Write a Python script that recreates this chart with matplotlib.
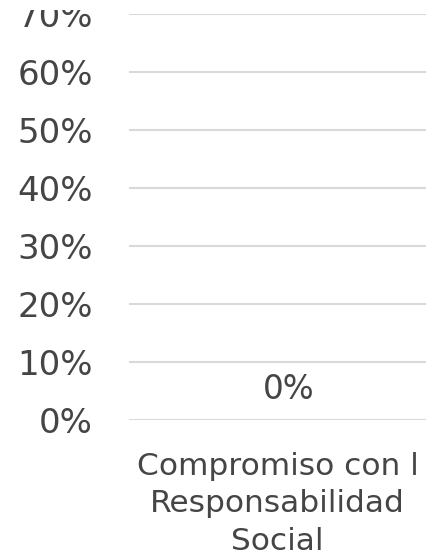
import matplotlib
matplotlib.use("Agg")
import matplotlib.pyplot as plt
from matplotlib.ticker import FuncFormatter, MultipleLocator
from matplotlib.patches import Rectangle

categories = ["Compromiso con l\nResponsabilidad\nSocial"]
values = [0.0]
value_labels = ["0%"]
y_max = 70

plt.rcParams['font.family'] = ['DejaVu Sans']

fig = plt.figure(figsize=(4.4, 5.56), dpi=100)
ax = fig.add_axes([129/440, 1 - 420/556, (426 - 129)/440, (420 - 14)/556])

x = list(range(len(categories)))
bars = ax.bar(x, values, width=0.6, color="#4472C4")
ax.set_xlim(-0.5, len(categories) - 0.5)
ax.set_ylim(0, y_max)
ax.yaxis.set_major_locator(MultipleLocator(10))
ax.yaxis.set_major_formatter(FuncFormatter(lambda v, p: f"{int(round(v))}%"))
ax.grid(axis='y', color="#d9d9d9", linewidth=1.5)
ax.set_axisbelow(True)
for s in ax.spines.values():
    s.set_visible(False)
ax.tick_params(axis='y', length=0, pad=26, labelsize=24.5, labelcolor="#454545")
ax.tick_params(axis='x', length=0, pad=23, labelsize=22.5, labelcolor="#454545")
ax.set_xticks(x)
ax.set_xticklabels(categories, linespacing=1.36)

for xi, v, lab in zip(x, values, value_labels):
    ax.annotate(lab, (xi, v), xytext=(8, 22), textcoords="offset points",
                ha="center", va="center", fontsize=23.5, color="#454545")

# top of the canvas is cut off in the reference (clipped "70%" label)
fig.patches.append(Rectangle((0, 1 - 10/556), 0.28, 10/556, transform=fig.transFigure,
                             facecolor="white", edgecolor="none", zorder=10))

fig.savefig("out.png", dpi=100)
